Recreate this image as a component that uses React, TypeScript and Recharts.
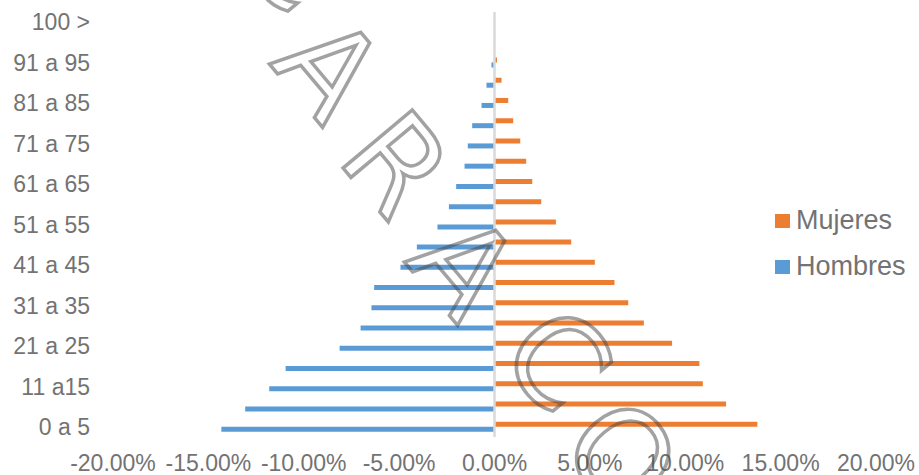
import { BarChart, Bar, XAxis, YAxis, ReferenceLine } from "recharts";

// age bands, bottom to top
const ageGroups = [
  "0 a 5", "6 a 10", "11 a15", "16 a 20", "21 a 25", "26 a 30", "31 a 35",
  "36 a 40", "41 a 45", "46 a 50", "51 a 55", "56 a 60", "61 a 65", "66 a 70",
  "71 a 75", "76 a 80", "81 a 85", "86 a 90", "91 a 95", "96 a 100", "100 >",
];

// share of population (%), men drawn to the left
const hombres = [
  -14.32, -13.07, -11.81, -10.95, -8.12, -7.02, -6.45, -6.31, -4.93, -4.07,
  -2.99, -2.39, -2.01, -1.57, -1.4, -1.17, -0.68, -0.42, -0.16, -0.03, -0.01,
];
const mujeres = [
  13.78, 12.14, 10.92, 10.74, 9.31, 7.83, 7.01, 6.29, 5.26, 4.02,
  3.22, 2.45, 1.98, 1.66, 1.35, 0.98, 0.72, 0.37, 0.13, 0.03, 0.01,
];

const xTicks = [-20, -15, -10, -5, 0, 5, 10, 15, 20];

// outlined stamp across the plot
const watermarkLetters = ["C", "A", "R", "A", "C", "O"];
const watermarkSpots = [
  [292, -40], [329, 68], [396, 164], [464, 266], [557, 360], [621, 456],
];

const BLUE = "#5B9BD5";
const ORANGE = "#ED7D31";
const TEXT = "#737373";
const FONT = "'Liberation Sans', Arial, sans-serif";

function Watermark() {
  return (
    <svg
      width={919}
      height={475}
      style={{ position: "absolute", left: 0, top: 0, pointerEvents: "none" }}
    >
      {watermarkLetters.map((ch, i) => {
        const [cx, cy] = watermarkSpots[i];
        return (
          <text
            key={i}
            x={cx}
            y={cy}
            textAnchor="middle"
            dominantBaseline="central"
            transform={`rotate(50 ${cx} ${cy})`}
            fontFamily="'DejaVu Sans', sans-serif"
            fontSize={124}
            fill="none"
            stroke="rgba(70,70,70,0.5)"
            strokeWidth={3.5}
          >
            {ch}
          </text>
        );
      })}
    </svg>
  );
}

function LegendBox() {
  const items = [
    { name: "Mujeres", color: ORANGE },
    { name: "Hombres", color: BLUE },
  ];
  return (
    <div style={{ position: "absolute", left: 775, top: 205 }}>
      {items.map((it) => (
        <div
          key={it.name}
          style={{ display: "flex", alignItems: "center", height: 31, marginBottom: 15 }}
        >
          <span style={{ width: 15, height: 14, background: it.color, display: "inline-block" }} />
          <span style={{ marginLeft: 6, fontSize: 27, color: TEXT, fontFamily: FONT }}>{it.name}</span>
        </div>
      ))}
    </div>
  );
}

export default function App() {
  const rows = ageGroups.map((age, i) => ({ age, hombres: hombres[i], mujeres: mujeres[i] }));

  return (
    <div style={{ position: "absolute", left: 0, top: 0, width: 919, height: 475, background: "#fff" }}>
      <BarChart
        width={919}
        height={475}
        data={rows}
        layout="vertical"
        margin={{ top: 12, right: 43, bottom: 0, left: 0 }}
        barSize={5}
        barGap={0}
      >
        <XAxis
          type="number"
          domain={[-20, 20]}
          ticks={xTicks}
          interval={0}
          tickFormatter={(v: number) => `${v.toFixed(2)}%`}
          axisLine={false}
          tickLine={false}
          tickSize={0}
          tickMargin={18}
          height={38}
          tick={{ fill: TEXT, fontSize: 23, fontFamily: FONT }}
        />
        <YAxis
          type="category"
          dataKey="age"
          reversed
          width={113}
          interval={1}
          axisLine={false}
          tickLine={false}
          tickSize={0}
          tickMargin={23}
          tick={{ fill: TEXT, fontSize: 23, fontFamily: FONT }}
        />
        <Bar dataKey="mujeres" fill={ORANGE} isAnimationActive={false} />
        <Bar dataKey="hombres" fill={BLUE} isAnimationActive={false} />
        <ReferenceLine x={0} stroke="#d9d9d9" strokeWidth={2.5} />
      </BarChart>
      <LegendBox />
      <Watermark />
    </div>
  );
}
